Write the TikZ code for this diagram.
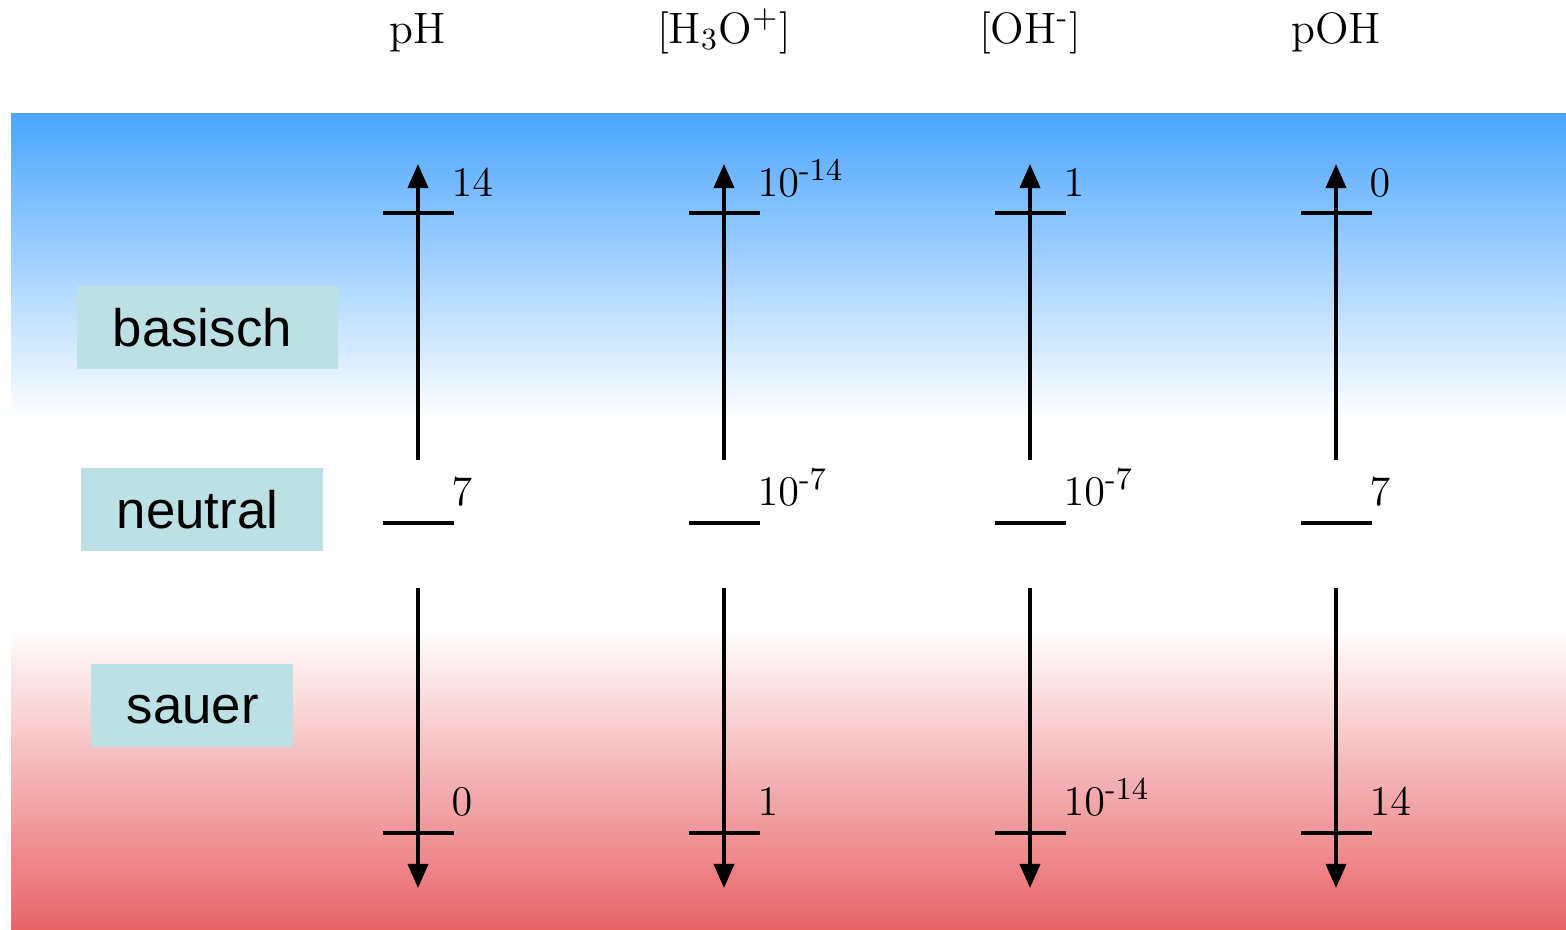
\documentclass[tikz,border=0pt]{standalone}
\usepackage{amsmath}
\usepackage{fontspec}
\newfontfamily\boxfont{Liberation Sans}
\usetikzlibrary{arrows.meta, positioning}
\definecolor{BaseBlue}{RGB}{75,165,255}
\definecolor{AcidRed}{RGB}{232,100,105}
\definecolor{BoxTeal}{RGB}{188,224,228}

\begin{document}
\begin{tikzpicture}[x=0.01cm, y=-0.01cm,
    axisline/.style={line width=1.1pt, black},
    scaletip/.style={-{Triangle[length=0.24cm, width=0.2cm]}},
    scalelabel/.style={font=\fontsize{12.5}{15}\selectfont, inner sep=0pt},
    phasebox/.style={fill=BoxTeal, font=\boxfont\fontsize{15}{18}\selectfont,
      inner xsep=0.36cm, minimum height=0.83cm, align=left}]
  \useasboundingbox (0,0) rectangle (1566,930);
  % background regions
  \shade[top color=BaseBlue, bottom color=white] (11,113) rectangle (1566,420);
  \shade[top color=white, bottom color=AcidRed] (11,628) rectangle (1566,930);
  % phase labels
  \node[phasebox, text width=1.89cm] (basic) at (207.5,327.5) {basisch};
  \node[phasebox, text width=1.70cm] (neutral) at (202,509.5) {neutral};
  \node[phasebox, text width=1.30cm, text height=0.36cm] (acid) at (192,705.5) {sauer};
  % the four scales
  \foreach \x/\col/\head/\hi/\mi/\lo in {
      418/ph/{\mathrm{pH}}/{14}/{7}/{0},
      724/hyd/{[\mathrm{H_3O^+}]}/{10^{\text{-}14}}/{10^{\text{-}7}}/{1},
      1030/oh/{[\mathrm{OH^{\text{-}}}]}/{1}/{10^{\text{-}7}}/{10^{\text{-}14}},
      1336/poh/{\mathrm{pOH}}/{0}/{7}/{14}} {
    \node[scalelabel, anchor=base] (\col-head) at (\x,43) {$\head$};
    \coordinate (\col-tip) at (\x,164);
    \coordinate (\col-top) at (\x,460);
    \coordinate (\col-low) at (\x,588);
    \coordinate (\col-end) at (\x,888);
    \draw[axisline, scaletip] (\col-top) -- (\col-tip);
    \draw[axisline, scaletip] (\col-low) -- (\col-end);
    \draw[axisline] (\x-35,213) -- (\x+36,213);
    \draw[axisline] (\x-35,523) -- (\x+36,523);
    \draw[axisline] (\x-35,833) -- (\x+36,833);
    \node[scalelabel, anchor=base west] (\col-hi) at (\x+33,196) {$\hi$};
    \node[scalelabel, anchor=base west] (\col-mi) at (\x+33,505) {$\mi$};
    \node[scalelabel, anchor=base west] (\col-lo) at (\x+33,815) {$\lo$};
  }
\end{tikzpicture}
\end{document}
